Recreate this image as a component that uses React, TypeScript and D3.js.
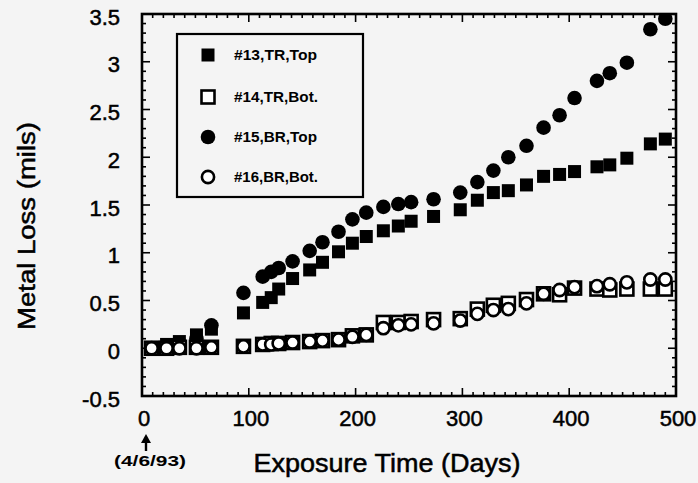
import React from "react";
import * as d3 from "d3";

const days = [9, 23, 35, 51, 65, 95, 113, 121, 128, 141, 157, 169, 184, 197, 210, 226, 240, 252, 273, 298, 314, 329, 343, 360, 376, 391, 405, 426, 438, 454, 476, 490];
const s13TRTop = [0.0, 0.04, 0.07, 0.14, 0.2, 0.37, 0.48, 0.53, 0.62, 0.73, 0.82, 0.9, 1.01, 1.1, 1.17, 1.23, 1.28, 1.33, 1.38, 1.45, 1.55, 1.63, 1.65, 1.71, 1.8, 1.82, 1.85, 1.9, 1.92, 1.99, 2.14, 2.19];
const s14TRBot = [0.0, 0.0, 0.01, 0.01, 0.01, 0.02, 0.04, 0.05, 0.05, 0.06, 0.07, 0.08, 0.09, 0.13, 0.14, 0.27, 0.27, 0.28, 0.3, 0.31, 0.41, 0.45, 0.47, 0.51, 0.57, 0.56, 0.63, 0.62, 0.61, 0.62, 0.62, 0.62];
const s15BRTop = [0.0, 0.02, 0.05, 0.1, 0.24, 0.58, 0.75, 0.8, 0.84, 0.91, 1.02, 1.11, 1.22, 1.35, 1.42, 1.48, 1.51, 1.53, 1.56, 1.63, 1.74, 1.86, 2.0, 2.12, 2.31, 2.44, 2.62, 2.8, 2.88, 2.99, 3.34, 3.45];
const s16BRBot = [0.0, 0.0, 0.0, 0.0, 0.01, 0.02, 0.04, 0.04, 0.05, 0.06, 0.07, 0.08, 0.09, 0.12, 0.14, 0.21, 0.24, 0.25, 0.26, 0.29, 0.36, 0.4, 0.41, 0.47, 0.57, 0.61, 0.64, 0.65, 0.67, 0.69, 0.72, 0.72];

const legendLabels = ["#13,TR,Top", "#14,TR,Bot.", "#15,BR,Top", "#16,BR,Bot."];
const xTicks = [0, 100, 200, 300, 400, 500];
const yTicks = [-0.5, 0, 0.5, 1, 1.5, 2, 2.5, 3, 3.5];
const yTickLabels = ["-0.5", "0", "0.5", "1", "1.5", "2", "2.5", "3", "3.5"];

const W = 698, H = 483;
const BG = "#f4f4f4";
const INK = "#000";
const FONT = "'Liberation Sans', Arial, sans-serif";

export default function App() {
  const left = 142, right = 676, top = 14, bottom = 396;
  const x = d3.scaleLinear().domain([0, 500]).range([left, right]);
  const y = d3.scaleLinear().domain([-0.5, 3.5]).range([bottom, top]);

  const xMinor = d3.range(0, 501, 10);
  const yMinor = d3.range(-5, 36, 1).map((v) => v / 10);

  const sq = 13;
  const r = 7.3;

  const square = (cx: number, cy: number, filled: boolean, key: string) => (
    <rect key={key} x={cx - sq / 2} y={cy - sq / 2} width={sq} height={sq}
      fill={filled ? INK : "#fff"} stroke={INK} strokeWidth={filled ? 0 : 2.6} />
  );
  const circle = (cx: number, cy: number, filled: boolean, key: string) => (
    <circle key={key} cx={cx} cy={cy} r={filled ? r : r - 1.2} fill={filled ? INK : "#fff"} stroke={INK} strokeWidth={filled ? 0 : 2.6} />
  );

  const isMajorX = (v: number) => v % 100 === 0;
  const isMajorY = (v: number) => Math.abs(Math.round(v * 10) % 5) === 0;

  const legendX = 208, legendRows = [55, 97, 137, 177];
  const heavy = { stroke: INK, strokeWidth: 0.5 };

  return (
    <svg width={W} height={H} style={{ position: "absolute", left: 0, top: 0, background: BG }} fontFamily={FONT}>
      <rect x={0} y={0} width={W} height={H} fill={BG} />
      <defs>
        <clipPath id="plot">
          <rect x={left} y={top} width={right - left} height={bottom - top} />
        </clipPath>
      </defs>

      {/* ticks */}
      <g stroke={INK} strokeWidth={1.6}>
        {xMinor.map((v) => {
          const len = isMajorX(v) ? 8 : 4;
          return (
            <g key={"xt" + v}>
              <line x1={x(v)} x2={x(v)} y1={bottom} y2={bottom - len} />
              <line x1={x(v)} x2={x(v)} y1={top} y2={top + len} />
            </g>
          );
        })}
        {yMinor.map((v) => {
          const len = isMajorY(v) ? 8 : 4;
          return (
            <g key={"yt" + v}>
              <line x1={left} x2={left + len} y1={y(v)} y2={y(v)} />
              <line x1={right} x2={right - len} y1={y(v)} y2={y(v)} />
            </g>
          );
        })}
      </g>

      {/* data */}
      <g clipPath="url(#plot)">
        {days.map((d, i) => square(x(d), y(s13TRTop[i]), true, "a" + i))}
        {days.map((d, i) => circle(x(d), y(s15BRTop[i]), true, "c" + i))}
        {days.map((d, i) => square(x(d), y(s14TRBot[i]), false, "b" + i))}
        {days.map((d, i) => circle(x(d), y(s16BRBot[i]), false, "d" + i))}
      </g>

      {/* frame */}
      <rect x={left} y={top} width={right - left} height={bottom - top} fill="none" stroke={INK} strokeWidth={2.6} />

      {/* legend */}
      <rect x={177} y={34} width={186} height={163} fill={BG} stroke={INK} strokeWidth={2.2} />
      {legendLabels.map((lab, i) => {
        const cy = legendRows[i];
        const mk = i === 0 ? square(legendX, cy, true, "l")
          : i === 1 ? square(legendX, cy, false, "l")
          : i === 2 ? circle(legendX, cy, true, "l")
          : circle(legendX, cy, false, "l");
        return (
          <g key={"leg" + i}>
            {mk}
            <text x={234} y={cy} dy="0.35em" fontSize={15} fontWeight="bold" fill={INK}
              textLength={i === 0 || i === 2 ? 83 : 84} lengthAdjust="spacingAndGlyphs">{lab}</text>
          </g>
        );
      })}

      {/* tick labels */}
      {xTicks.map((v) => (
        <text key={"xl" + v} x={x(v) + 2} y={418} dy="0.35em" textAnchor="middle" fontSize={22} fill={INK} {...heavy}>{v}</text>
      ))}
      {yTicks.map((v, i) => (
        <text key={"yl" + v} x={120} y={y(v) + 3} dy="0.35em" textAnchor="end" fontSize={22} fill={INK} {...heavy}>{yTickLabels[i]}</text>
      ))}

      {/* axis titles */}
      <text x={387} y={463} dy="0.35em" textAnchor="middle" fontSize={25} fill={INK} {...heavy}
        textLength={267} lengthAdjust="spacingAndGlyphs">Exposure Time (Days)</text>
      <text transform={`translate(27,226) rotate(-90)`} dy="0.35em" textAnchor="middle" fontSize={23} fill={INK} {...heavy}
        textLength={208} lengthAdjust="spacingAndGlyphs">Metal Loss (mils)</text>

      {/* date annotation */}
      <line x1={146} x2={146} y1={440} y2={451} stroke={INK} strokeWidth={2.4} />
      <path d="M146,434 L141,443 L151,443 Z" fill={INK} />
      <text x={150} y={461} dy="0.35em" textAnchor="middle" fontSize={14} fontWeight="bold" fill={INK}
        textLength={72} lengthAdjust="spacingAndGlyphs">(4/6/93)</text>
    </svg>
  );
}
